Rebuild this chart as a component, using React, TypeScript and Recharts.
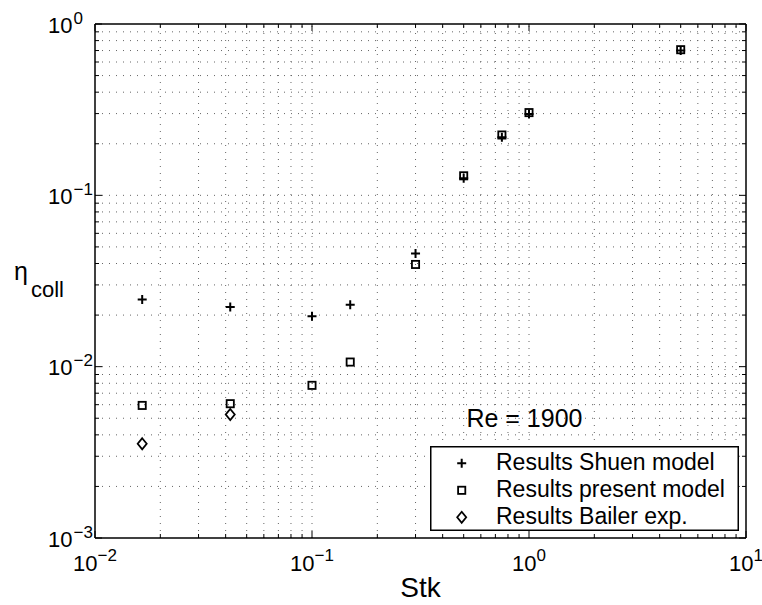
import React from 'react';
import { ScatterChart, Scatter, XAxis, YAxis, ReferenceLine, ReferenceDot, Legend } from 'recharts';

// ---- data ----
const stkShuen = [0.0165, 0.042, 0.1, 0.15, 0.3, 0.5, 0.75, 1, 5];
const etaShuen = [0.0247, 0.0223, 0.0197, 0.023, 0.0458, 0.126, 0.218, 0.298, 0.7];
const stkPresent = [0.0165, 0.042, 0.1, 0.15, 0.3, 0.5, 0.75, 1, 5];
const etaPresent = [0.00594, 0.00608, 0.00778, 0.01064, 0.0395, 0.13, 0.225, 0.304, 0.708];
const stkBailer = [0.0165, 0.042];
const etaBailer = [0.00355, 0.00526];

const seriesNames = ['Results Shuen model', 'Results present model', 'Results Bailer exp.'];
const xDecades = [0.01, 0.1, 1, 10];
const yDecades = [0.001, 0.01, 0.1, 1];
const minorMultipliers = [2, 3, 4, 5, 6, 7, 8, 9];
const xLabel = 'Stk';
const yLabelMain = 'η';
const yLabelSub = 'coll';
const annotationText = 'Re = 1900';
const annotationX = 0.953;
const annotationY = 0.00499;

// ---- derived ----
const minorsOf = (decades: number[]) =>
  decades.slice(0, -1).flatMap((d) => minorMultipliers.map((m) => parseFloat((m * d).toPrecision(6))));
const xMinor = minorsOf(xDecades);
const yMinor = minorsOf(yDecades);
const xTicks = [...xDecades, ...xMinor].sort((a, b) => a - b);
const yTicks = [...yDecades, ...yMinor].sort((a, b) => a - b);
const xGrid = [...xDecades.slice(1, -1), ...xMinor];
const yGrid = [...yDecades.slice(1, -1), ...yMinor];

const shuenData = stkShuen.map((x, i) => ({ x, y: etaShuen[i] }));
const presentData = stkPresent.map((x, i) => ({ x, y: etaPresent[i] }));
const bailerData = stkBailer.map((x, i) => ({ x, y: etaBailer[i] }));

const FONT = 'Liberation Sans, Arial, Helvetica, sans-serif';
const MAJOR = 7;
const MINOR = 4;

const isMajor = (v: number) => {
  const l = Math.log10(v);
  return Math.abs(l - Math.round(l)) < 1e-6;
};
const expStr = (v: number) => {
  const e = Math.round(Math.log10(v));
  return e < 0 ? '\u2212' + Math.abs(e) : String(e);
};

// ---- markers ----
const plusPath = (cx: number, cy: number) => (
  <path d={`M${cx - 4.5},${cy}H${cx + 4.5}M${cx},${cy - 4.5}V${cy + 4.5}`} stroke="#000" strokeWidth={2} fill="none" />
);
const squarePath = (cx: number, cy: number) => (
  <rect x={cx - 3.6} y={cy - 3.6} width={7.2} height={7.2} stroke="#000" strokeWidth={1.8} fill="none" />
);
const diamondPath = (cx: number, cy: number) => (
  <path d={`M${cx},${cy - 5.5}L${cx + 4.5},${cy}L${cx},${cy + 5.5}L${cx - 4.5},${cy}Z`} stroke="#000" strokeWidth={1.8} fill="none" />
);
const markers = [plusPath, squarePath, diamondPath];

const PlusShape = (p: any) => plusPath(p.cx, p.cy);
const SquareShape = (p: any) => squarePath(p.cx, p.cy);
const DiamondShape = (p: any) => diamondPath(p.cx, p.cy);

// ---- ticks ----
const BottomTick = (p: any) => {
  const v = p.payload.value;
  const maj = isMajor(v);
  return (
    <g>
      <line x1={p.x} x2={p.x} y1={p.y} y2={p.y - (maj ? MAJOR : MINOR)} stroke="#000" strokeWidth={1} />
      {maj && (
        <text x={p.x} y={p.y + 33} textAnchor="middle" fontSize={22} fontFamily={FONT} fill="#000">
          10<tspan dy={-10} fontSize={17}>{expStr(v)}</tspan>
        </text>
      )}
    </g>
  );
};
const TopTick = (p: any) => {
  const maj = isMajor(p.payload.value);
  return <line x1={p.x} x2={p.x} y1={p.y} y2={p.y + (maj ? MAJOR : MINOR)} stroke="#000" strokeWidth={1} />;
};
const LeftTick = (p: any) => {
  const v = p.payload.value;
  const maj = isMajor(v);
  return (
    <g>
      <line x1={p.x} x2={p.x + (maj ? MAJOR : MINOR)} y1={p.y} y2={p.y} stroke="#000" strokeWidth={1} />
      {maj && (
        <g>
          <text x={p.x - 22.5} y={p.y + 8.5} textAnchor="end" fontSize={22} fontFamily={FONT} fill="#000">10</text>
          <text x={p.x - 21.5} y={p.y - 0.5} textAnchor="start" fontSize={17} fontFamily={FONT} fill="#000">{expStr(v)}</text>
        </g>
      )}
    </g>
  );
};
const RightTick = (p: any) => {
  const maj = isMajor(p.payload.value);
  return <line x1={p.x} x2={p.x - (maj ? MAJOR : MINOR)} y1={p.y} y2={p.y} stroke="#000" strokeWidth={1} />;
};

// ---- labels ----
const XLabelContent = (p: any) => {
  const vb = p.viewBox;
  return (
    <text x={vb.x + vb.width / 2} y={vb.y + 59} textAnchor="middle" fontSize={28} fontFamily={FONT} fill="#000">
      {xLabel}
    </text>
  );
};
const YLabelContent = (p: any) => {
  const vb = p.viewBox;
  const cy = vb.y + vb.height / 2;
  return (
    <text x={14} y={cy - 1.5} fontSize={25} fontFamily={FONT} fill="#000">
      {yLabelMain}
      <tspan dx={3} dy={17.5} fontSize={22}>{yLabelSub}</tspan>
    </text>
  );
};
const AnnotationContent = (p: any) => {
  const vb = p.viewBox;
  return (
    <text x={vb.x + vb.width / 2} y={vb.y + vb.height / 2 + 9} textAnchor="middle" fontSize={25} fontFamily={FONT} fill="#000">
      {annotationText}
    </text>
  );
};

const LegendBox = () => (
  <svg width={309} height={85} style={{ display: 'block' }}>
    <rect x={0.75} y={0.75} width={307.5} height={83.5} fill="#fff" stroke="#000" strokeWidth={1.5} />
    {seriesNames.map((n, i) => (
      <g key={n}>
        {markers[i](31.7, 17.3 + i * 27)}
        <text x={66} y={23.5 + i * 27.3} fontSize={23} fontFamily={FONT} fill="#000">{n}</text>
      </g>
    ))}
  </svg>
);

const gridProps = { stroke: '#666', strokeWidth: 1, strokeDasharray: '1 6' };
const axisLine = { stroke: '#000', strokeWidth: 1.5 };

export default function App() {
  return (
    <div style={{ position: 'absolute', left: 0, top: 0, width: 762, height: 605, background: '#fff', fontFamily: FONT }}>
      <ScatterChart width={762} height={605} margin={{ top: 0, right: 0, bottom: 0, left: 0 }}>
        <XAxis
          xAxisId="b"
          orientation="bottom"
          dataKey="x"
          type="number"
          scale="log"
          domain={[0.01, 10]}
          allowDataOverflow
          ticks={xTicks}
          interval={0}
          tickSize={0}
          tickMargin={0}
          tickLine={false}
          height={67}
          axisLine={axisLine}
          tick={(p: any) => <BottomTick {...p} />}
          label={XLabelContent}
        />
        <XAxis
          xAxisId="t"
          orientation="top"
          dataKey="x"
          type="number"
          scale="log"
          domain={[0.01, 10]}
          allowDataOverflow
          ticks={xTicks}
          interval={0}
          tickSize={0}
          tickMargin={0}
          tickLine={false}
          height={24}
          axisLine={axisLine}
          tick={(p: any) => <TopTick {...p} />}
        />
        <YAxis
          yAxisId="l"
          orientation="left"
          dataKey="y"
          type="number"
          scale="log"
          domain={[0.001, 1]}
          allowDataOverflow
          ticks={yTicks}
          interval={0}
          tickSize={0}
          tickMargin={0}
          tickLine={false}
          width={95}
          axisLine={axisLine}
          tick={(p: any) => <LeftTick {...p} />}
          label={YLabelContent}
        />
        <YAxis
          yAxisId="r"
          orientation="right"
          dataKey="y"
          type="number"
          scale="log"
          domain={[0.001, 1]}
          allowDataOverflow
          ticks={yTicks}
          interval={0}
          tickSize={0}
          tickMargin={0}
          tickLine={false}
          width={16}
          axisLine={axisLine}
          tick={(p: any) => <RightTick {...p} />}
        />
        {xGrid.map((v) => (
          <ReferenceLine key={'gx' + v} xAxisId="b" yAxisId="l" x={v} {...gridProps} />
        ))}
        {yGrid.map((v) => (
          <ReferenceLine key={'gy' + v} xAxisId="b" yAxisId="l" y={v} {...gridProps} />
        ))}
        <Scatter name={seriesNames[0]} data={shuenData} xAxisId="b" yAxisId="l" shape={PlusShape} isAnimationActive={false} />
        <Scatter name={seriesNames[1]} data={presentData} xAxisId="b" yAxisId="l" shape={SquareShape} isAnimationActive={false} />
        <Scatter name={seriesNames[2]} data={bailerData} xAxisId="b" yAxisId="l" shape={DiamondShape} isAnimationActive={false} />
        <ReferenceDot
          xAxisId="b"
          yAxisId="l"
          x={annotationX}
          y={annotationY}
          r={0}
          fill="none"
          stroke="none"
          label={AnnotationContent}
        />
        <Legend
          layout="horizontal"
          verticalAlign="middle"
          align="center"
          content={LegendBox}
          wrapperStyle={{ left: 430, top: 446, width: 309, height: 85, lineHeight: 0 }}
        />
      </ScatterChart>
    </div>
  );
}
